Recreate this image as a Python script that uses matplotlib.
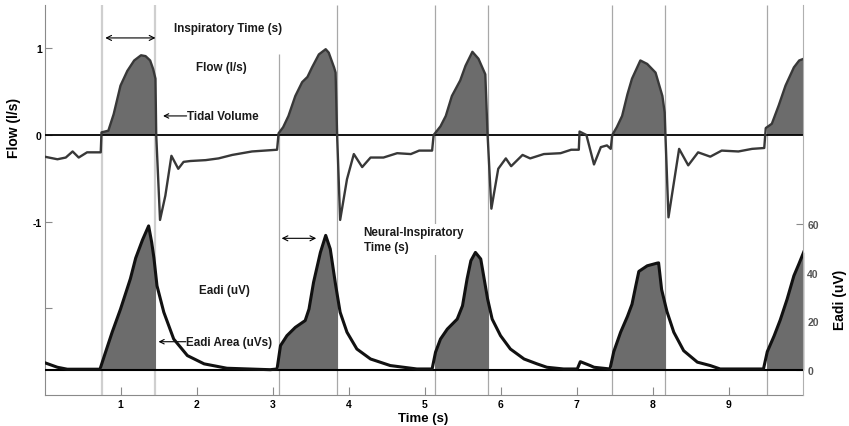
import numpy as np
import matplotlib
matplotlib.use("Agg")
import matplotlib.pyplot as plt
from matplotlib.patches import Rectangle

plt.rcParams['font.family'] = ['Liberation Sans', 'DejaVu Sans']

# ===== data =====
flow_t = [0.00, 0.17, 0.28, 0.37, 0.45, 0.56, 0.74, 0.75, 0.84, 0.91, 1.00, 1.09, 1.18, 1.27, 1.33, 1.39, 1.43, 1.46,
          1.47, 1.52, 1.59, 1.67, 1.76, 1.83, 1.92, 2.12, 2.29, 2.47, 2.73, 3.06,
          3.08, 3.14, 3.21, 3.30, 3.39, 3.46, 3.52, 3.61, 3.70, 3.74, 3.81, 3.83,
          3.85, 3.89, 3.98, 4.07, 4.18, 4.29, 4.46, 4.64, 4.82, 4.93, 5.10,
          5.12, 5.21, 5.28, 5.36, 5.47, 5.54, 5.63, 5.71, 5.80,
          5.83, 5.88, 5.97, 6.07, 6.14, 6.29, 6.39, 6.57, 6.79, 6.93, 7.03,
          7.04, 7.13, 7.23, 7.32, 7.40, 7.45,
          7.47, 7.53, 7.60, 7.67, 7.73, 7.84, 7.93, 8.04, 8.13, 8.16,
          8.17, 8.21, 8.35, 8.47, 8.60, 8.76, 8.91, 9.13, 9.31, 9.47,
          9.49, 9.57, 9.66, 9.75, 9.86, 9.93, 9.99]
flow_v = [-0.25, -0.28, -0.26, -0.19, -0.26, -0.20, -0.20, 0.03, 0.05, 0.24, 0.57, 0.74, 0.86, 0.92, 0.91, 0.86, 0.76, 0.65,
          0.0, -0.98, -0.70, -0.24, -0.39, -0.31, -0.30, -0.29, -0.27, -0.23, -0.19, -0.17,
          0.02, 0.09, 0.22, 0.45, 0.61, 0.67, 0.78, 0.93, 0.99, 0.95, 0.78, 0.72,
          0.0, -0.98, -0.51, -0.22, -0.37, -0.26, -0.26, -0.21, -0.22, -0.18, -0.18,
          0.0, 0.10, 0.22, 0.45, 0.63, 0.80, 0.96, 0.88, 0.70,
          0.0, -0.85, -0.39, -0.27, -0.36, -0.23, -0.27, -0.22, -0.21, -0.17, -0.17,
          0.04, 0.0, -0.34, -0.14, -0.12, -0.16,
          0.0, 0.09, 0.22, 0.47, 0.65, 0.86, 0.82, 0.72, 0.45, 0.26,
          0.0, -0.95, -0.16, -0.35, -0.20, -0.25, -0.18, -0.19, -0.16, -0.15,
          0.08, 0.13, 0.34, 0.57, 0.78, 0.86, 0.88]

eadi_t = [0.00, 0.17, 0.30, 0.73, 0.80, 0.89, 1.00, 1.13, 1.20, 1.29, 1.37, 1.41, 1.44, 1.48, 1.57, 1.70,
          1.88, 2.10, 2.40, 2.97,
          3.06, 3.105, 3.19, 3.30, 3.43, 3.48, 3.54, 3.63, 3.70, 3.76, 3.83, 3.89, 3.98, 4.11, 4.29,
          4.55, 4.90, 5.10,
          5.145, 5.21, 5.30, 5.43, 5.50, 5.56, 5.61, 5.67, 5.74, 5.83, 5.89, 6.00, 6.13, 6.31, 6.48,
          6.61, 6.83,
          7.01, 7.05, 7.18, 7.23, 7.44,
          7.49, 7.58, 7.67, 7.73, 7.78, 7.82, 7.93, 8.06, 8.08, 8.12, 8.19, 8.28, 8.41, 8.59, 8.76,
          8.89, 9.46,
          9.51, 9.60, 9.68, 9.77, 9.86, 9.925, 9.99]
eadi_v = [3.0, 1.1, 0.3, 0.3, 7.0, 15.5, 25.0, 37.5, 46.0, 53.5, 59.2, 52.5, 46.0, 34.6, 23.7, 12.7,
          5.9, 2.5, 0.7, 0.1,
          0.4, 10.0, 14.1, 17.5, 20.3, 25.0, 36.0, 48.3, 55.3, 49.7, 35.0, 23.7, 15.5, 8.6, 4.5,
          1.8, 0.4, 0.4,
          7.3, 12.7, 16.8, 20.9, 26.4, 37.4, 44.9, 48.3, 45.6, 29.2, 20.9, 14.1, 8.6, 4.5, 2.5,
          1.1, 0.4,
          0.4, 3.4, 1.8, 1.1, 0.4,
          7.5, 15.5, 22.0, 27.0, 34.6, 40.5, 42.8, 43.9, 44.0, 33.0, 24.0, 15.5, 7.9, 3.2, 1.8,
          0.4, 0.4,
          7.5, 14.0, 20.5, 29.0, 38.7, 43.5, 48.5]

insp_on = [0.76, 3.08, 5.14, 7.47, 9.51]
insp_off = [1.46, 3.85, 5.84, 8.17, 10.2]
grid_lines = [0.76, 1.46, 3.08, 3.85, 5.14, 5.84, 7.47, 8.17, 9.51]

flow_t = np.array(flow_t)
flow_v = np.array(flow_v)
eadi_t = np.array(eadi_t)
eadi_v = np.array(eadi_v)

# ===== figure =====
fig = plt.figure(figsize=(8.49, 4.27), dpi=100)
ax = fig.add_axes([44.5 / 849, 31 / 427, 758.5 / 849, 390 / 427])
ax2 = ax.twinx()

xlim = (0, 9.98)
flow_lim = (-3.0, 1.5)
eadi_lim = (-10.3, 150)
ax.set_xlim(*xlim)
ax.set_ylim(*flow_lim)
ax2.set_ylim(*eadi_lim)

fill_col = '#6c6c6c'

# inspiratory markers
for x in grid_lines:
    top = 0.934 if x == 3.08 else flow_lim[1]
    col = '#cfcfcf' if x < 2 else '#a8a8a8'
    lw = 1.6 if x < 2 else 0.9
    ax.vlines(x, flow_lim[0], top, color=col, lw=lw, zorder=1)

# flow
for on, off in zip(insp_on, insp_off):
    poly = ax.fill_between(flow_t, flow_v, 0, where=flow_v >= 0, interpolate=True,
                           color=fill_col, lw=0, zorder=2)
    poly.set_clip_path(Rectangle((on, flow_lim[0]), off - on, flow_lim[1] - flow_lim[0],
                                 transform=ax.transData))
ax.axhline(0, color='black', lw=1.3, zorder=3)
ax.plot(flow_t, flow_v, color='#383838', lw=1.7, zorder=4, solid_joinstyle='round')

# eadi
for on, off in zip(insp_on, insp_off):
    poly = ax2.fill_between(eadi_t, eadi_v, 0, color=fill_col, lw=0, zorder=2)
    poly.set_clip_path(Rectangle((on, eadi_lim[0]), off - on, eadi_lim[1] - eadi_lim[0],
                                 transform=ax2.transData))
ax2.axhline(0, color='black', lw=1.5, zorder=3)
ax2.plot(eadi_t, eadi_v, color='#111111', lw=2.2, zorder=4, solid_joinstyle='round')

# ===== annotations =====
txt = dict(fontsize=8.4, fontweight='bold', color='#1a1a1a')
ax.text(1.70, 1.234, 'Inspiratory Time (s)', ha='left', va='center', **txt)
ax.annotate('', xy=(0.80, 1.12), xytext=(1.46, 1.12),
            arrowprops=dict(arrowstyle='<->', lw=0.8, color='black', shrinkA=0, shrinkB=0,
                            mutation_scale=9))
ax.text(1.99, 0.784, 'Flow (l/s)', ha='left', va='center', **txt)
ax.annotate('', xy=(1.56, 0.22), xytext=(1.87, 0.22),
            arrowprops=dict(arrowstyle='->', lw=0.8, color='black', shrinkA=0, shrinkB=0,
                            mutation_scale=8))
ax.text(1.875, 0.22, 'Tidal Volume', ha='left', va='center', **txt)

ax2.text(2.03, 32.9, 'Eadi (uV)', ha='left', va='center', **txt)
ax2.annotate('', xy=(1.50, 11.6), xytext=(1.86, 11.6),
             arrowprops=dict(arrowstyle='->', lw=0.8, color='black', shrinkA=0, shrinkB=0,
                             mutation_scale=8))
ax2.text(1.865, 11.6, 'Eadi Area (uVs)', ha='left', va='center', **txt)
ax2.annotate('', xy=(3.12, 54.1), xytext=(3.575, 54.1),
             arrowprops=dict(arrowstyle='<->', lw=0.8, color='black', shrinkA=0, shrinkB=0,
                             mutation_scale=9))
ax2.text(4.20, 59.0, 'Neural-Inspiratory\nTime (s)', ha='left', va='top', linespacing=1.25,
         bbox=dict(facecolor='white', edgecolor='none', pad=1.5), zorder=5, **txt)

# ===== axes styling =====
spine_col = '#8a8a8a'
for a in (ax, ax2):
    a.spines['top'].set_visible(False)
ax.spines['right'].set_visible(False)
ax2.spines['left'].set_visible(False)
ax2.spines['bottom'].set_visible(False)
ax.spines['left'].set_color(spine_col)
ax.spines['bottom'].set_color(spine_col)
ax2.spines['right'].set_color('#b0b0b0')

ax.set_xticks(range(1, 10))
ax.set_yticks([-2, -1, 0, 1])
ax.set_yticklabels(['', '-1', '0', '1'])
ax.tick_params(axis='x', direction='in', length=5.5, color=spine_col, labelsize=7.5, pad=3)
ax.tick_params(axis='y', direction='in', length=5, color=spine_col, labelsize=7.5, pad=2)
ax2.set_yticks([0, 20, 40, 60])
ax2.tick_params(axis='y', direction='in', length=5, color=spine_col, labelsize=7.5, pad=3,
                labelcolor='#555555')
for lbl in ax.get_xticklabels() + ax.get_yticklabels() + ax2.get_yticklabels():
    lbl.set_fontweight('bold')

ax.set_xlabel('Time (s)', fontsize=9.5, fontweight='bold')
ax.xaxis.set_label_coords(0.499, -0.043)
ax.set_ylabel('Flow (l/s)', fontsize=10, fontweight='bold')
ax.yaxis.set_label_coords(-0.031, 0.688)
ax2.set_ylabel('Eadi (uV)', fontsize=10, fontweight='bold', rotation=90)
ax2.yaxis.set_label_coords(1.039, 0.2455)

fig.savefig('out.png', dpi=100)
